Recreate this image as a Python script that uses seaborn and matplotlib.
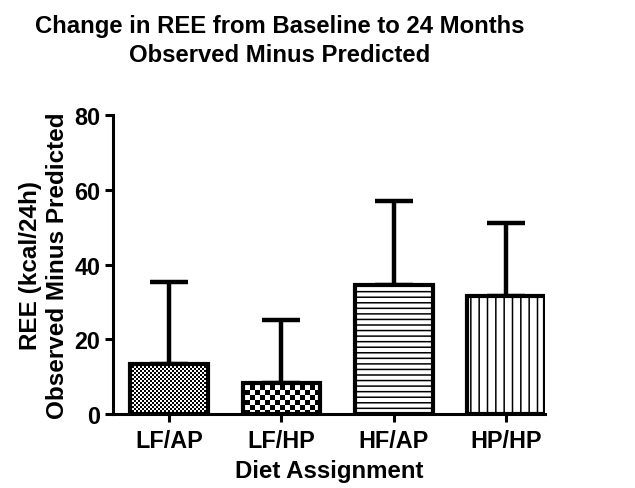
import numpy as np
import matplotlib
matplotlib.use("Agg")
import matplotlib.pyplot as plt
import matplotlib.hatch as mhatch
from matplotlib.path import Path
import seaborn as sns

## Datos

diets = ["LF/AP", "LF/HP", "HF/AP", "HP/HP"]
means = [13.3, 8.4, 34.5, 31.7]          # REE observado - predicho
sem_up = [22.1, 16.8, 22.6, 19.4]        # barra de error superior
hatches = ["*****", "**", "---", "||"]
yticks = [0, 20, 40, 60, 80]


## Trama de tablero (reemplaza la trama de estrellas '*')

class CheckerHatch(mhatch.HatchPatternBase):
    def __init__(self, hatch, density):
        self.n = hatch.count('*') * 10
        self.filled = True
        self.shrink = plt.rcParams['hatch.linewidth'] / 2.0 / 72.0
        self.num_vertices = (self.n * self.n // 2) * 5 if self.n else 0

    def set_vertices_and_codes(self, vertices, codes):
        n = self.n
        s = self.shrink
        k = 0
        for i in range(n):
            for j in range(n):
                if (i + j) % 2:
                    continue
                x0, x1 = i / n + s, (i + 1) / n - s
                y0, y1 = j / n + s, (j + 1) / n - s
                vertices[k:k + 5] = [[x0, y0], [x1, y0], [x1, y1], [x0, y1], [x0, y0]]
                codes[k:k + 5] = [Path.MOVETO, Path.LINETO, Path.LINETO, Path.LINETO, Path.CLOSEPOLY]
                k += 5

mhatch._hatch_types = [CheckerHatch if t is mhatch.Stars else t for t in mhatch._hatch_types]


## Grafico

sns.set_style("ticks", {'text.color': 'black', 'axes.labelcolor': 'black',
                        'xtick.color': 'black', 'ytick.color': 'black',
                        'axes.edgecolor': 'black'})
plt.rcParams['font.family'] = ['Liberation Sans', 'DejaVu Sans']
plt.rcParams['font.weight'] = 'bold'
plt.rcParams['hatch.linewidth'] = 1.1
plt.rcParams['hatch.color'] = 'black'

fig = plt.figure(figsize=(6.35, 4.89), dpi=100)
ax = fig.add_axes([0.178, 0.151, 0.68, 0.612])

sns.barplot(x=diets, y=means, color="white", edgecolor="black",
            linewidth=3, width=0.69, saturation=1, ax=ax, zorder=2)

for p, h in zip(ax.patches, hatches):
    p.set_hatch(h)

ax.errorbar(diets, means, yerr=[np.zeros(len(means)), sem_up], fmt="none",
            ecolor="black", elinewidth=3.2, capsize=14, capthick=3.2, zorder=1)

ax.set_ylim(0, 80)
ax.set_xlim(-0.5, 3.345)
ax.set_yticks(yticks)
ax.spines['top'].set_visible(False)
ax.spines['right'].set_visible(False)
ax.spines['left'].set_linewidth(2.2)
ax.spines['bottom'].set_linewidth(2.2)
ax.tick_params(axis='both', width=2.2, length=6, labelsize=16.8, pad=3,
               color='black', labelcolor='black')
ax.tick_params(axis='x', pad=5)
for t in ax.get_xticklabels() + ax.get_yticklabels():
    t.set_fontweight('bold')

ax.set_xlabel("Diet Assignment", fontsize=17.3, fontweight='bold', labelpad=5, color='black')
ax.set_ylabel("REE (kcal/24h)\nObserved Minus Predicted", fontsize=17.5,
              fontweight='bold', labelpad=4, linespacing=1.2, color='black')

fig.text(280 / 635, 1 - 41 / 489, "Change in REE from Baseline to 24 Months\nObserved Minus Predicted",
         ha='center', va='center', fontsize=17.2, fontweight='bold', linespacing=1.38,
         color='black')

plt.savefig("out.png", dpi=100)
